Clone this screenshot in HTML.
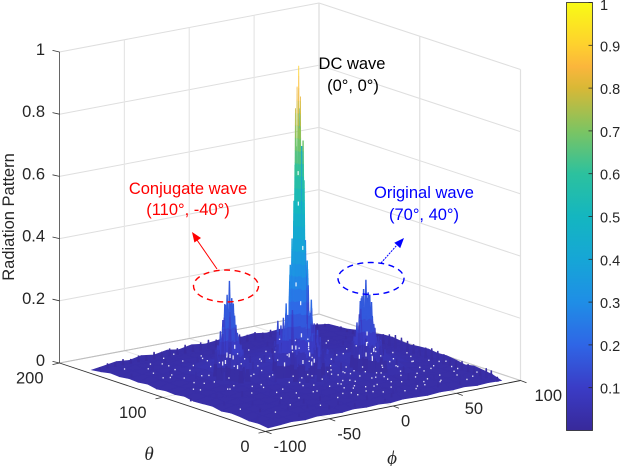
<!DOCTYPE html>
<html lang="en">
<head>
<meta charset="utf-8">
<title>Radiation Pattern</title>
<style>
html,body{margin:0;padding:0;background:#fff;}
svg{display:block;font-family:"Liberation Sans",Arial,sans-serif;}
text{fill:#262626;}
</style>
</head>
<body>
<svg id="chart" width="620" height="466" viewBox="0 0 620 466" xmlns="http://www.w3.org/2000/svg">
  <defs>
    <linearGradient id="parula" x1="0" y1="1" x2="0" y2="0"></linearGradient>
  </defs>
  <g id="walls"></g>
  <g id="surface"></g>
  <g id="axes"></g>
  <g id="colorbar"></g>

  <text transform="translate(14,217) rotate(-90)" text-anchor="middle" font-size="16.5">Radiation Pattern</text>
  <text x="149" y="460" text-anchor="middle" font-size="19" font-style="italic" style="font-family:'Liberation Serif',serif">θ</text>
  <text x="392" y="464" text-anchor="middle" font-size="19" font-style="italic" style="font-family:'Liberation Serif',serif">ϕ</text>

  <text x="352" y="69" text-anchor="middle" font-size="16.5" style="fill:#000">DC wave</text>
  <text x="353" y="91" text-anchor="middle" font-size="16.5" style="fill:#000">(0°, 0°)</text>

  <text x="188" y="194" text-anchor="middle" font-size="16.5" style="fill:#ff0000">Conjugate wave</text>
  <text x="188" y="215" text-anchor="middle" font-size="16.5" style="fill:#ff0000">(110°, -40°)</text>
  <ellipse cx="226" cy="286" rx="32.5" ry="16" fill="none" stroke="#ff0000" stroke-width="1.4" stroke-dasharray="6 4.5"/>
  <line x1="217" y1="269" x2="197" y2="240" stroke="#ff0000" stroke-width="1"/>
  <polygon points="192,232 201,238 194.4,242.5" fill="#ff0000"/>

  <text x="424" y="198" text-anchor="middle" font-size="16.5" style="fill:#0000ff">Original wave</text>
  <text x="424" y="220" text-anchor="middle" font-size="16.5" style="fill:#0000ff">(70°, 40°)</text>
  <ellipse cx="371" cy="278.5" rx="33" ry="16" fill="none" stroke="#0000ff" stroke-width="1.4" stroke-dasharray="6 4.5"/>
  <line x1="381" y1="263" x2="397" y2="245" stroke="#0000ff" stroke-width="1" stroke-dasharray="2 1"/>
  <polygon points="404,238 400.2,248.1 394.3,242.7" fill="#0000ff"/>
</svg>

<script>
// ---- chart data ----
const zTicks = [0, 0.2, 0.4, 0.6, 0.8, 1];
const zTickLabels = ['0', '0.2', '0.4', '0.6', '0.8', '1'];
const phiTicks = [-100, -50, 0, 50, 100];
const phiTickLabels = ['-100', '-50', '0', '50', '100'];
const thetaTicks = [0, 100, 200];
const thetaTickLabels = ['0', '100', '200'];
const barTicks = [0.1, 0.2, 0.3, 0.4, 0.5, 0.6, 0.7, 0.8, 0.9, 1];
const barTickLabels = ['0.1', '0.2', '0.3', '0.4', '0.5', '0.6', '0.7', '0.8', '0.9', '1'];
const colorStops = [0, 0.1, 0.2, 0.3, 0.4, 0.5, 0.6, 0.7, 0.8, 0.85, 0.9, 1];
const colorValues = ['#38299a', '#3a3cc6', '#2f66e6', '#1f8ee6', '#16a6d6', '#14b6c0', '#2cc19e', '#7cc462', '#d8b836', '#fbb63c', '#fed02e', '#f9fb15'];

const phiValues = [-98, -88, -79, -69, -60, -50, -40, -31, -21, -11, -2, 8, 18, 27, 37, 47, 56, 66, 75, 85];
const thetaValues = [0, 9, 18, 27, 36, 45, 54, 63, 72, 81, 90, 99, 108, 117, 126, 135, 144, 153, 162, 171];
const floorZ = [
  [.010,.012,.015,.012,.016,.014,.012,.016,.013,.015,.012,.016,.014,.012,.015,.013,.016,.012,.014,.012],
  [.014,.022,.018,.024,.020,.026,.018,.022,.026,.020,.024,.028,.022,.026,.020,.024,.022,.026,.020,.022],
  [.012,.020,.026,.022,.028,.022,.026,.030,.024,.028,.026,.032,.028,.024,.030,.026,.024,.022,.028,.026],
  [.016,.024,.020,.028,.024,.030,.024,.028,.032,.030,.034,.030,.036,.032,.028,.030,.026,.028,.024,.030],
  [.018,.022,.028,.024,.030,.026,.032,.030,.036,.034,.038,.036,.032,.036,.034,.030,.034,.026,.030,.024],
  [.014,.026,.024,.030,.028,.034,.030,.036,.034,.040,.042,.038,.040,.042,.044,.036,.030,.032,.028,.030],
  [.020,.024,.030,.026,.032,.030,.036,.034,.040,.044,.048,.044,.042,.050,.054,.046,.036,.030,.032,.034],
  [.018,.028,.026,.032,.030,.036,.034,.040,.044,.052,.058,.050,.048,.060,.068,.056,.040,.034,.030,.032],
  [.016,.024,.030,.028,.036,.034,.040,.038,.048,.060,.072,.058,.050,.064,.072,.058,.042,.032,.034,.036],
  [.022,.026,.028,.034,.032,.040,.044,.042,.052,.068,.084,.066,.052,.058,.060,.048,.038,.036,.030,.034],
  [.018,.030,.026,.036,.038,.046,.052,.048,.056,.074,.092,.070,.050,.048,.044,.040,.036,.032,.034,.030],
  [.020,.024,.032,.036,.044,.056,.062,.052,.052,.066,.078,.062,.046,.042,.040,.038,.034,.030,.028,.032],
  [.016,.028,.030,.038,.048,.064,.074,.058,.046,.054,.060,.052,.044,.040,.036,.034,.032,.034,.030,.036],
  [.022,.026,.034,.032,.044,.056,.064,.052,.042,.044,.048,.044,.040,.038,.034,.032,.034,.030,.028,.034],
  [.018,.030,.028,.036,.036,.044,.046,.040,.038,.040,.038,.036,.038,.034,.036,.030,.028,.032,.030,.028],
  [.020,.024,.032,.030,.034,.032,.036,.034,.036,.032,.034,.036,.030,.032,.028,.032,.030,.026,.028,.024],
  [.016,.028,.026,.032,.028,.034,.030,.032,.028,.034,.030,.028,.032,.028,.030,.026,.028,.030,.024,.020],
  [.018,.022,.030,.024,.030,.026,.032,.028,.030,.026,.030,.032,.026,.030,.028,.030,.024,.026,.022,.014],
  [.012,.024,.020,.028,.024,.030,.026,.030,.024,.028,.032,.026,.030,.024,.028,.024,.028,.022,.020,.012],
  [.008,.014,.020,.016,.024,.018,.026,.020,.028,.022,.026,.030,.022,.026,.020,.024,.018,.022,.016,.010]
];

const dcPhi = [-2,-2.5,-1.5,-3,-1,-3,-0.5,-1,-3.5,-0.5,-4,0,0.5,-4.5,0.5,-1.5,-2.5,-3,-5,1,1.5,-5,-2,-0.5,0,-4,-3.5,1,-6,2,-5.5,2.5,-6.5,3,-1,-3,-7,3.5,-7.5,4,-8,4.5,-2,0,-8.5,5,-9,5.5,-10,6,-11,7,-4,-6,2,4,-12,8,-1,-3,-5,3,-13,9,-7,5,-10,7,-14,10,-2,-9,6,-12,9];
const dcTheta = [90,91,89,92,90,88,91,87,90,89,91,92,88,89,90,86,94,85,91,89,91,88,84,95,86,94,84,93,90,89,92,90,88,91,82,97,90,88,92,90,89,91,80,99,88,90,92,88,91,89,90,92,80,100,82,98,88,92,78,102,84,96,91,89,86,94,82,98,90,88,104,96,84,100,80];
const dcZ = [.998,.93,.9,.86,.86,.8,.78,.76,.74,.74,.68,.66,.63,.6,.6,.58,.56,.54,.5,.5,.46,.46,.44,.42,.44,.44,.4,.42,.38,.38,.36,.34,.32,.32,.3,.3,.28,.28,.26,.27,.25,.25,.22,.22,.22,.22,.2,.2,.2,.19,.18,.18,.18,.18,.17,.17,.16,.16,.15,.15,.15,.15,.13,.13,.13,.13,.12,.12,.1,.1,.1,.1,.1,.09,.09];
const dcExtra = [[-9,90,.31],[5,90,.31],[-8,91,.33],[4,89,.34],[-7,92,.36],[3,88,.37],[-6,90,.42],[2,90,.44],[-11,91,.24],[7,89,.24],[-12,90,.21],[8,90,.21],[-13,89,.18],[9,91,.18],[-14,90,.16],[10,90,.16],[-15,92,.14],[11,88,.14],[-16,90,.11],[12,90,.11],[-17,91,.09],[13,89,.09],[-6,76,.15],[2,74,.14],[-10,72,.1],[6,72,.1],[-2,70,.12],[-14,78,.09],[10,76,.09],[-4,108,.16],[0,110,.14],[-8,106,.1],[4,106,.1]];

const origPhi = [40,39,41,38,41.5,39.5,37,42.5,40.5,36.5,43,38,42,35.5,44,40,37,43,34.5,45,39,41,33.5,46,36,44,38,42,40,35,45,33,47,37,43];
const origTheta = [77,78,76,79,78,75,77,76,80,79,78,74,81,77,76,72,82,73,78,76,84,70,79,75,72,82,86,68,88,84,71,74,80,66,88];
const origZ = [.29,.26,.25,.23,.23,.22,.2,.2,.2,.18,.18,.18,.17,.16,.16,.15,.15,.15,.13,.13,.12,.12,.11,.11,.11,.11,.1,.1,.09,.09,.09,.08,.08,.07,.07];
const origExtra = [[43,77,.24],[37,77,.24],[44,77,.2],[36,77,.2],[45,77,.17],[35,77,.17],[46,78,.15],[34,76,.15],[47,77,.13],[33,77,.12],[48,77,.1],[32,77,.09],[49,76,.08],[42,74,.22],[38,80,.22],[41,66,.12],[39,64,.1],[43,62,.08],[37,61,.07],[44,68,.1],[36,68,.1],[46,70,.1]];

const conjPhi = [-40,-41,-39,-42,-38.5,-40.5,-43,-37.5,-39.5,-43.5,-37,-41.5,-38,-44.5,-36,-40,-43,-37,-45.5,-35,-41,-39,-46.5,-34,-44,-36,-42,-38,-40,-45,-35,-47,-33,-43,-37];
const conjTheta = [110,111,109,112,111,108,110,109,113,112,111,107,114,110,109,105,115,106,111,109,117,103,112,108,105,115,119,101,121,117,104,107,113,99,121];
const conjZ = [.315,.27,.26,.24,.24,.22,.21,.21,.2,.19,.19,.18,.17,.17,.16,.15,.15,.15,.13,.13,.12,.12,.11,.11,.11,.11,.1,.1,.09,.09,.09,.08,.08,.07,.07];
const conjExtra = [[-37,110,.24],[-43,110,.24],[-36,110,.2],[-44,110,.2],[-35,110,.17],[-45,110,.17],[-34,111,.15],[-46,109,.15],[-33,110,.13],[-47,110,.13],[-32,110,.1],[-48,110,.1],[-31,111,.08],[-49,109,.08],[-38,113,.22],[-42,107,.22],[-39,100,.12],[-41,98,.1],[-37,96,.08],[-43,95,.07],[-36,102,.1],[-44,102,.1]];

// mesh ripples on the phi = 85 edge
const edgeRight = [[85,4,.02],[85,10,.034],[85,15,.036],[85,21,.028],[85,27,.024],[85,33,.03],[85,39,.033],[85,45,.028],[85,51,.03],[85,57,.036],[85,63,.04],[85,69,.042],[85,75,.038],[85,81,.034],[85,87,.036],[85,93,.04],[85,99,.044],[85,105,.046],[85,111,.042],[85,117,.036],[85,123,.03],[85,129,.024],[85,135,.02],[85,141,.022],[85,147,.018],[85,153,.014],[85,159,.016],[85,165,.01]];
// mesh ripples on the theta = 171 edge
const edgeBack = [[-92,171,.012],[-86,171,.02],[-80,171,.016],[-74,171,.024],[-68,171,.02],[-62,171,.026],[-56,171,.022],[-50,171,.028],[-44,171,.024],[-38,171,.03],[-32,171,.026],[-26,171,.032],[-20,171,.028],[-14,171,.03],[-8,171,.034],[-2,171,.03],[4,171,.034],[10,171,.028],[16,171,.032],[22,171,.026],[28,171,.03],[34,171,.024],[40,171,.028],[46,171,.022],[52,171,.026],[58,171,.02],[64,171,.024],[70,171,.018],[76,171,.02],[82,171,.014]];
// short strips of the mesh on the floor
const floorStrips = [[-90,20,.02],[-84,60,.018],[-80,130,.022],[-76,35,.016],[-72,95,.024],[-68,150,.02],[-64,12,.015],[-62,70,.022],[-58,120,.026],[-55,42,.018],[-52,88,.024],[-50,160,.02],[-47,25,.016],[-46,62,.024],[-44,140,.022],[-38,15,.018],[-36,50,.026],[-35,80,.028],[-33,150,.02],[-30,34,.02],[-28,70,.03],[-26,98,.032],[-25,128,.026],[-22,10,.016],[-20,46,.026],[-18,64,.032],[-17,116,.03],[-15,142,.022],[-12,28,.022],[-10,54,.03],[-8,130,.026],[-6,18,.02],[-5,40,.028],[-3,60,.034],[-1,125,.028],[2,152,.02],[4,32,.024],[6,50,.03],[8,128,.024],[10,14,.018],[12,62,.032],[13,110,.03],[15,40,.026],[17,140,.02],[19,85,.032],[20,22,.02],[22,58,.03],[24,105,.028],[25,155,.018],[27,34,.024],[28,130,.022],[30,70,.032],[31,12,.016],[33,100,.03],[34,48,.028],[36,120,.024],[38,25,.02],[40,145,.018],[42,110,.026],[44,40,.026],[46,128,.02],[48,16,.018],[50,92,.028],[52,55,.026],[54,150,.016],[56,30,.022],[58,112,.022],[60,72,.026],[62,12,.016],[64,130,.018],[66,45,.024],[68,95,.024],[70,22,.02],[72,62,.024],[74,140,.014],[76,36,.022],[78,105,.024],[80,14,.018],[82,78,.024],[-94,80,.014],[-88,145,.016],[-78,75,.02],[-70,50,.018],[-66,135,.022],[-60,28,.016],[-54,155,.018],[-48,105,.034],[-42,35,.02],[-40,78,.03],[-34,125,.03],[-27,20,.016],[-24,85,.034],[-16,92,.034],[-13,160,.018],[-7,75,.036],[0,8,.014],[5,72,.036],[11,92,.036],[16,20,.018],[23,80,.034],[29,150,.018]];

const speckPhi = [-90,-84,-78,-72,-66,-61,-55,-49,-44,-38,-33,-27,-22,-16,-11,-6,-1,4,9,14,19,24,29,34,39,44,49,54,59,64,69,74,79,-86,-74,-63,-52,-41,-30,-19,-8,3,13,24,35,46,57,68,78,-80,-69,-58,-47,-36,-25,-14,-3,7,18,28,38,50,61,72,-82,-70,-56,-44,-32,-20,-10,0,10,22,32,42,52,62,74,-76,-60,-46,-34,-24,-12,-4,6,16,26,36,48,58,70,-64,-50,-28,-16,-6,2,12,20,30,44,54,66,-8,4,-18,14,-26,24];
const speckTheta = [150,120,142,95,131,80,156,66,124,92,147,55,136,70,116,32,141,48,128,20,104,36,120,12,60,22,108,38,92,18,70,30,48,88,112,60,96,44,84,26,60,14,66,8,100,12,72,26,16,118,76,108,34,142,98,24,118,28,44,52,18,84,40,56,132,150,40,160,116,108,36,50,74,30,124,46,130,60,36,100,124,72,128,62,138,22,62,82,42,142,58,110,10,146,52,40,126,44,30,98,64,150,140,90,84,70,66,76,60,86,58];
const speckExtra = [[-88,40,.02],[-75,22,.02],[-68,75,.03],[-62,110,.03],[-57,30,.02],[-53,72,.03],[-51,132,.03],[-43,18,.02],[-42,56,.03],[-39,88,.04],[-37,136,.03],[-31,40,.03],[-29,66,.03],[-23,26,.02],[-21,52,.03],[-15,44,.03],[-13,68,.04],[-9,24,.02],[-7,46,.03],[-2,36,.03],[1,66,.04],[3,24,.02],[5,44,.03],[8,58,.04],[11,30,.03],[15,52,.03],[17,68,.04],[20,14,.02],[21,44,.03],[25,62,.04],[27,26,.03],[30,50,.03],[33,18,.02],[36,38,.03],[37,58,.04],[41,30,.03],[43,50,.04],[47,36,.03],[51,68,.03],[53,20,.02],[55,82,.03],[57,46,.03],[60,30,.02],[63,60,.03],[65,100,.03],[67,12,.02],[71,50,.02],[73,118,.02],[77,84,.02],[80,56,.02],[-79,90,.02],[-71,128,.02],[-65,94,.03],[-59,146,.02],[-45,150,.02],[-25,118,.03],[-11,100,.05],[-9,120,.03],[6,112,.04],[10,138,.02],[18,122,.03],[26,94,.03],[40,100,.03],[52,132,.02],[31,132,.02]];
const peakFlecks = [[-40,110,.08],[-38,108,.11],[-42,112,.06],[-36,112,.07],[-44,108,.09],[-39,104,.05],[-41,116,.05],[40,77,.09],[38,75,.06],[42,79,.12],[36,79,.05],[44,75,.07],[39,70,.05],[-2,88,.14],[-6,92,.1],[2,86,.11],[-10,90,.08],[6,90,.07],[-4,84,.06],[0,96,.09],[-12,92,.05],[8,88,.05],[-2,78,.06],[-1,90,.24],[-3,92,.3],[-1,88,.42],[-2,91,.56],[-3,90,.66]];

// ---- projection (box corners measured in pixels) ----
const cornerFront = [265.5, 431.5];
const cornerRight = [520.5, 380.5];
const cornerLeft = [59.5, 363];
const cornerBack = [319, 314];
const zHeight = 311;

function project(phi, theta, z) {
  const u = (phi + 100) / 200;
  const v = theta / 200;
  const x = (1 - u) * (1 - v) * cornerFront[0] + u * (1 - v) * cornerRight[0] + (1 - u) * v * cornerLeft[0] + u * v * cornerBack[0];
  const y = (1 - u) * (1 - v) * cornerFront[1] + u * (1 - v) * cornerRight[1] + (1 - u) * v * cornerLeft[1] + u * v * cornerBack[1];
  return [x, y - z * zHeight];
}

function hexToRgb(h) {
  return [parseInt(h.slice(1, 3), 16), parseInt(h.slice(3, 5), 16), parseInt(h.slice(5, 7), 16)];
}
function colorFor(v) {
  const c = Math.max(0, Math.min(1, v));
  for (let i = 1; i < colorStops.length; i++) {
    if (c <= colorStops[i]) {
      const t = (c - colorStops[i - 1]) / (colorStops[i] - colorStops[i - 1]);
      const a = hexToRgb(colorValues[i - 1]);
      const b = hexToRgb(colorValues[i]);
      return 'rgb(' + a.map((n, k) => Math.round(n + (b[k] - n) * t)).join(',') + ')';
    }
  }
  return colorValues[colorValues.length - 1];
}

const NS = 'http://www.w3.org/2000/svg';
function make(tag, parent, attrs, text) {
  const el = document.createElementNS(NS, tag);
  for (const k in attrs) el.setAttribute(k, attrs[k]);
  if (text !== undefined) el.textContent = text;
  parent.appendChild(el);
  return el;
}
function pts(list) {
  return list.map(p => p[0].toFixed(2) + ',' + p[1].toFixed(2)).join(' ');
}

const walls = document.getElementById('walls');
const surface = document.getElementById('surface');
const axes = document.getElementById('axes');
const colorbar = document.getElementById('colorbar');

// ---- wall grid ----
function gridLine(a, b, color, width) {
  const el = make('line', walls, { x1: a[0], y1: a[1], x2: b[0], y2: b[1], stroke: color, 'stroke-width': width });
  
  
}
zTicks.forEach(z => {
  gridLine(project(-100, 200, z), project(100, 200, z), '#dedede', 1);
  gridLine(project(100, 200, z), project(100, 0, z), '#dedede', 1);
});
phiTicks.slice(1).forEach(p => {
  gridLine(project(p, 200, 0), project(p, 200, 1), '#e6e6e6', 1.2);
  gridLine(project(p, 200, 0), project(p, 0, 0), '#e6e6e6', 1);
});
thetaTicks.forEach(t => {
  gridLine(project(100, t, 0), project(100, t, 1), '#e0e0e0', 1.2);
  gridLine(project(-100, t, 0), project(100, t, 0), '#e6e6e6', 1);
});
gridLine(project(-100, 200, 0), project(100, 200, 0), '#bdbdbd', 1);
gridLine(project(100, 200, 0), project(100, 0, 0), '#c8c8c8', 1);

// ---- floor surface ----
for (let i = thetaValues.length - 2; i >= 0; i--) {
  for (let j = phiValues.length - 2; j >= 0; j--) {
    const z1 = floorZ[i][j], z2 = floorZ[i][j + 1], z3 = floorZ[i + 1][j + 1], z4 = floorZ[i + 1][j];
    const col = colorFor(Math.max(0.03, (z1 + z2 + z3 + z4) / 4));
    const cell = make('polygon', surface, {
      points: pts([
        project(phiValues[j], thetaValues[i], z1),
        project(phiValues[j + 1], thetaValues[i], z2),
        project(phiValues[j + 1], thetaValues[i + 1], z3),
        project(phiValues[j], thetaValues[i + 1], z4)
      ]),
      fill: col, stroke: col, 'stroke-width': 0.7
    });
    
    
  }
}

// ---- spikes for the peaks and short mesh strips ----
const spikes = [];
function addPeak(phis, thetas, zs, name, tint, spread, cap) {
  phis.forEach((p, k) => spikes.push({ phi: p, theta: thetas[k], z: zs[k], name: name, tint: k % 5 === 4 ? tint * 0.65 : tint, spread: spread, cap: cap }));
}
function addPoints(points, name, tint, spread, cap) {
  points.forEach((q, k) => spikes.push({ phi: q[0], theta: q[1], z: q[2], name: name, tint: k % 4 === 3 ? tint * 0.7 : tint, spread: spread, cap: cap }));
}
addPeak(dcPhi, dcTheta, dcZ, 'dc-peak-spike', 0.92, 1.7, 1);
addPoints(dcExtra, 'dc-peak-spike', 0.95, 1.9, 1);
addPeak(origPhi, origTheta, origZ, 'original-peak-spike', 0.95, 2.2, 0.17);
addPoints(origExtra, 'original-peak-spike', 0.95, 2.2, 0.17);
addPeak(conjPhi, conjTheta, conjZ, 'conjugate-peak-spike', 0.95, 2.2, 0.17);
addPoints(conjExtra, 'conjugate-peak-spike', 0.95, 2.2, 0.17);
addPoints(edgeRight, 'surface-edge-strip', 1, 0.9, 1);
addPoints(edgeBack, 'surface-edge-strip', 1, 0.9, 1);
addPoints(floorStrips, 'surface-strip', 2, 0.4, 1);
spikes.sort((a, b) => project(a.phi, a.theta, 0)[1] - project(b.phi, b.theta, 0)[1]);

spikes.forEach(s => {
  const g = make('g', surface, {});
  
  
  const base = project(s.phi, s.theta, 0);
  const step = 0.04;
  const tipWidth = s.z > 0.85 ? 0.4 : 0.7;
  for (let h = 0.005; h < s.z; h += step) {
    const h2 = Math.min(s.z, h + step);
    const w1 = tipWidth + s.spread * (1 - h / s.z);
    const w2 = tipWidth + s.spread * (1 - h2 / s.z);
    const y1 = base[1] - h * zHeight;
    const y2 = base[1] - h2 * zHeight;
    const seg = make('polygon', g, {
      points: pts([[base[0] - w1, y1 + 0.3], [base[0] + w1, y1 + 0.3], [base[0] + w2, y2], [base[0] - w2, y2]]),
      fill: colorFor(Math.min(s.cap, s.tint * (h + h2) / 2))
    });
    
    
  }
});

// ---- white speckles on the mesh ----
function drawSpeck(p, t, z, h) {
  const q = project(p, t, z);
  const dot = make('rect', surface, { x: q[0].toFixed(1), y: q[1].toFixed(1), width: 1.3, height: h, fill: '#ffffff', opacity: 0.85 });
  
  
}
speckPhi.forEach((p, k) => drawSpeck(p, speckTheta[k], 0.03, 1.4));
speckExtra.forEach(q => drawSpeck(q[0], q[1], q[2], 1.4));
peakFlecks.forEach(q => drawSpeck(q[0], q[1], q[2], 4));

// ---- axis lines, ticks, labels ----
function axisLine(a, b, color, width) {
  const el = make('line', axes, { x1: a[0], y1: a[1], x2: b[0], y2: b[1], stroke: color, 'stroke-width': width });
  
  
}
axisLine(project(-100, 200, 0), project(-100, 200, 1), '#666666', 1);
axisLine(project(-100, 200, 0), project(-100, 0, 0), '#333333', 0.9);
axisLine(project(-100, 0, 0), project(100, 0, 0), '#262626', 0.9);

zTicks.forEach((z, k) => {
  const q = project(-100, 200, z);
  axisLine([q[0] - 7, q[1] - 1.6], q, '#333333', 0.8);
  const label = make('text', axes, { x: 45, y: q[1] + 3, 'text-anchor': 'end', 'font-size': 16.5 }, zTickLabels[k]);
  
  
});
thetaTicks.forEach((t, k) => {
  const q = project(-100, t, 0);
  axisLine([q[0] - 7, q[1] + 1.6], q, '#333333', 0.8);
  const label = make('text', axes, { x: q[0] - 16, y: q[1] + 20.5, 'text-anchor': 'end', 'font-size': 16.5 }, thetaTickLabels[k]);
  
  
});
phiTicks.forEach((p, k) => {
  const q = project(p, 0, 0);
  axisLine([q[0] + 6, q[1] + 2.2], q, '#333333', 0.8);
  const label = make('text', axes, { x: q[0] + (p === 100 ? 14 : 8), y: q[1] + 20.5, 'text-anchor': 'start', 'font-size': 16.5 }, phiTickLabels[k]);
  
  
});

// ---- colorbar ----
const grad = document.getElementById('parula');
colorStops.forEach((s, k) => {
  const st = make('stop', grad, { offset: s, 'stop-color': colorValues[k] });
  
  
});
const barLeft = 566.5, barRight = 592.5, barTop = 2.5, barBottom = 430.5;
function barY(v) { return barBottom - v * (barBottom - barTop); }
const barRect = make('rect', colorbar, { x: barLeft, y: barTop, width: barRight - barLeft, height: barBottom - barTop, fill: 'url(#parula)', stroke: '#262626', 'stroke-width': 0.8 });


barTicks.forEach((v, k) => {
  const y = barY(v);
  const tick = make('line', colorbar, { x1: barRight - 4, y1: y, x2: barRight, y2: y, stroke: '#262626', 'stroke-width': 0.8 });
  
  
  const label = make('text', colorbar, { x: 600, y: Math.max(y, 4) + 6, 'font-size': 14.5 }, barTickLabels[k]);
  
  
});
</script>
</body>
</html>
